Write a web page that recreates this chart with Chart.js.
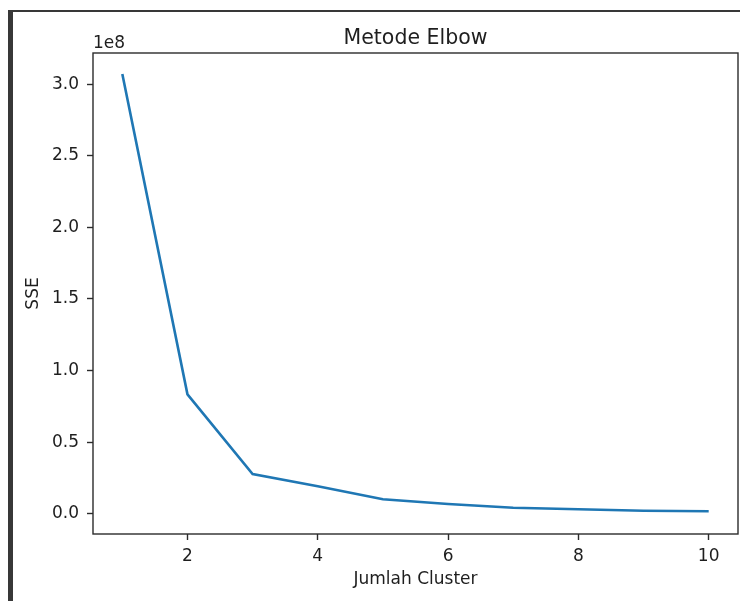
<!DOCTYPE html>
<html>
<head>
<meta charset="utf-8">
<script src="https://cdn.jsdelivr.net/npm/chart.js@4.4.1/dist/chart.umd.min.js"></script>
<style>
  html, body { margin: 0; padding: 0; background: #fff; }
  #wrap { position: relative; width: 740px; height: 601px; overflow: hidden; }
  #frame { position: absolute; left: 8px; top: 10px; width: 740px; height: 600px;
           border-top: 2px solid #383838; border-left: 5px solid #383838; }
  #elbowChart { position: absolute; left: 0; top: 0; }
</style>
</head>
<body>
<div id="wrap">
  <div id="frame"></div>
  <canvas id="elbowChart" width="740" height="601"></canvas>
</div>
<script>
// Data hasil elbow (SSE per jumlah cluster)
const jumlahCluster = [1, 2, 3, 4, 5, 6, 7, 8, 9, 10];
const nilaiSSE = [307200000, 83400000, 27700000, 19200000, 10100000, 6800000, 4200000, 3100000, 2100000, 1700000];
const xTicks = [2, 4, 6, 8, 10];
const yTicks = [0, 50000000, 100000000, 150000000, 200000000, 250000000, 300000000];

const fontFam = "'DejaVu Sans', sans-serif";
const axisColor = '#2b2b2b';

// Frame around the axes, title and the 1e8 offset label
const framePlugin = {
    id: 'framePlugin',
    afterDraw(chart) {
        const c = chart.ctx;
        const a = chart.chartArea;
        c.save();
        c.strokeStyle = axisColor;
        c.lineWidth = 1.4;
        c.strokeRect(a.left, a.top, a.right - a.left, a.bottom - a.top);
        c.fillStyle = '#1e1e1e';
        c.textBaseline = 'alphabetic';
        c.font = '20.5px ' + fontFam;
        c.textAlign = 'center';
        c.fillText('Metode Elbow', (a.left + a.right) / 2, 43.5);
        c.font = '17px ' + fontFam;
        c.textAlign = 'left';
        c.fillText('1e8', a.left, 48);
        c.restore();
    }
};

const ctx = document.getElementById('elbowChart').getContext('2d');
new Chart(ctx, {
    type: 'line',
    data: {
        datasets: [{
            label: 'SSE',
            data: jumlahCluster.map((k, i) => ({ x: k, y: nilaiSSE[i] })),
            borderColor: '#1f77b4',
            borderWidth: 2.6,
            pointRadius: 0,
            tension: 0,
            fill: false
        }]
    },
    options: {
        responsive: false,
        animation: false,
        layout: { padding: { left: 0, top: 53, right: 2, bottom: 0 } },
        plugins: {
            legend: { display: false },
            tooltip: { enabled: false },
            title: { display: false }
        },
        scales: {
            x: {
                type: 'linear',
                min: 0.55,
                max: 10.45,
                afterBuildTicks: s => { s.ticks = xTicks.map(v => ({ value: v })); },
                afterFit: s => { s.height = 67; },
                grid: { drawOnChartArea: false, drawTicks: true, tickLength: 6, tickColor: axisColor, tickWidth: 1.4 },
                border: { display: false },
                ticks: { color: '#1e1e1e', font: { family: fontFam, size: 17 }, padding: 6, maxRotation: 0 },
                title: { display: true, text: 'Jumlah Cluster', color: '#1e1e1e', font: { family: fontFam, size: 17 }, padding: { top: 0, bottom: 11 } }
            },
            y: {
                type: 'linear',
                min: -14190000,
                max: 321870000,
                afterBuildTicks: s => { s.ticks = yTicks.map(v => ({ value: v })); },
                afterFit: s => { s.width = 93; },
                grid: { drawOnChartArea: false, drawTicks: true, tickLength: 6, tickColor: axisColor, tickWidth: 1.4 },
                border: { display: false },
                ticks: {
                    color: '#1e1e1e',
                    font: { family: fontFam, size: 17 },
                    padding: 8,
                    callback: v => (v / 1e8).toFixed(1)
                },
                title: { display: true, text: 'SSE', color: '#1e1e1e', font: { family: fontFam, size: 17 }, padding: { top: 23, bottom: 0 } }
            }
        }
    },
    plugins: [framePlugin]
});
</script>
</body>
</html>
